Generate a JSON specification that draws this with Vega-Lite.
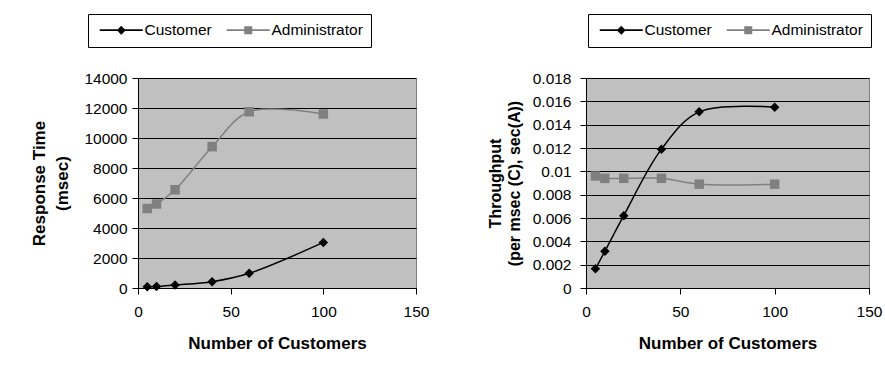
{
  "$schema": "https://vega.github.io/schema/vega-lite/v6.json",
  "autosize": {"type": "none"},
  "padding": {"left": 138, "top": 78, "right": 747, "bottom": 291},
  "background": "white",
  "spacing": 170,
  "bounds": "flush",
  "config": {
    "font": "Liberation Sans",
    "view": {"fill": "#c0c0c0", "stroke": "#808080", "strokeWidth": 1},
    "axis": {
      "domainColor": "black", "tickColor": "black", "gridColor": "black",
      "labelColor": "black", "titleColor": "black",
      "labelFont": "Liberation Sans", "titleFont": "Liberation Sans",
      "labelFontSize": 15.5, "titleFontSize": 17, "titleFontWeight": "bold",
      "tickSize": 6, "domainWidth": 1, "tickWidth": 1, "gridWidth": 1,
      "labelFlush": false, "labelOverlap": false
    },
    "legend": {
      "orient": "none", "direction": "horizontal",
      "strokeColor": "black", "fillColor": "white", "padding": 8,
      "labelFont": "Liberation Sans", "labelFontSize": 15.5, "labelColor": "black",
      "symbolSize": 64, "labelOffset": 33, "columnPadding": 11, "symbolOpacity": 1
    }
  },
  "datasets": {
    "resp": [
      {"customers": 5, "series": "Administrator", "value": 5300},
      {"customers": 10, "series": "Administrator", "value": 5600},
      {"customers": 20, "series": "Administrator", "value": 6550},
      {"customers": 40, "series": "Administrator", "value": 9420},
      {"customers": 60, "series": "Administrator", "value": 11750},
      {"customers": 100, "series": "Administrator", "value": 11600},
      {"customers": 5, "series": "Customer", "value": 90},
      {"customers": 10, "series": "Customer", "value": 100},
      {"customers": 20, "series": "Customer", "value": 200},
      {"customers": 40, "series": "Customer", "value": 420},
      {"customers": 60, "series": "Customer", "value": 980},
      {"customers": 100, "series": "Customer", "value": 3040}
    ],
    "thru": [
      {"customers": 5, "series": "Administrator", "value": 0.0096},
      {"customers": 10, "series": "Administrator", "value": 0.0094},
      {"customers": 20, "series": "Administrator", "value": 0.0094},
      {"customers": 40, "series": "Administrator", "value": 0.0094},
      {"customers": 60, "series": "Administrator", "value": 0.0089},
      {"customers": 100, "series": "Administrator", "value": 0.0089},
      {"customers": 5, "series": "Customer", "value": 0.00164},
      {"customers": 10, "series": "Customer", "value": 0.00315},
      {"customers": 20, "series": "Customer", "value": 0.0062},
      {"customers": 40, "series": "Customer", "value": 0.0119},
      {"customers": 60, "series": "Customer", "value": 0.0151},
      {"customers": 100, "series": "Customer", "value": 0.0155}
    ]
  },
  "resolve": {
    "scale": {"color": "independent", "shape": "independent", "x": "independent", "y": "independent"},
    "legend": {"color": "independent", "shape": "independent"}
  },
  "hconcat": [
    {
      "width": 278, "height": 210,
      "data": {"name": "resp"},
      "encoding": {
        "x": {"field": "customers", "type": "quantitative",
          "scale": {"domain": [0, 150], "nice": false},
          "axis": {"values": [0, 50, 100, 150], "grid": false, "labelPadding": 10, "titlePadding": 16, "title": "Number of Customers"}},
        "y": {"field": "value", "type": "quantitative",
          "scale": {"domain": [0, 14000], "nice": false},
          "axis": {"values": [0, 2000, 4000, 6000, 8000, 10000, 12000, 14000], "format": "d", "grid": true, "labelPadding": 5, "title": ["Response Time", "(msec)"], "titlePadding": 12, "titleLineHeight": 23}}
      },
      "layer": [
        {
          "mark": {"type": "line", "interpolate": "catmull-rom", "strokeWidth": 1.5},
          "encoding": {
            "detail": {"field": "series", "type": "nominal"},
            "color": {"condition": {"test": "datum.series === 'Customer'", "value": "black"}, "value": "#808080"}
          }
        },
        {
          "mark": {"type": "point", "filled": true, "opacity": 1, "size": 90},
          "encoding": {
            "color": {"condition": {"test": "datum.series === 'Customer'", "value": "black"}, "value": "#808080"},
            "shape": {"condition": {"test": "datum.series === 'Customer'", "value": "diamond"}, "value": "square"}
          }
        },
        {
          "transform": [{"filter": "false"}],
          "mark": {"type": "point", "filled": true, "opacity": 1},
          "encoding": {
            "color": {"field": "series", "type": "nominal", "scale": {"domain": ["Customer", "Administrator"], "range": ["black", "#808080"]},
              "legend": {"title": null, "legendX": -50, "legendY": -64}},
            "shape": {"field": "series", "type": "nominal", "scale": {"domain": ["Customer", "Administrator"], "range": ["M-1,-0.19H9.75V0.19H-1ZM4.375,-1.125L5.5,0L4.375,1.125L3.25,0Z", "M-1,-0.19H9.75V0.19H-1ZM3.375,-1H5.375V1H3.375Z"]},
              "legend": {"title": null, "legendX": -50, "legendY": -64}}
          }
        }
      ]
    },
    {
      "width": 283, "height": 210,
      "data": {"name": "thru"},
      "encoding": {
        "x": {"field": "customers", "type": "quantitative",
          "scale": {"domain": [0, 150], "nice": false},
          "axis": {"values": [0, 50, 100, 150], "grid": false, "labelPadding": 10, "titlePadding": 16, "title": "Number of Customers"}},
        "y": {"field": "value", "type": "quantitative",
          "scale": {"domain": [0, 0.018], "nice": false},
          "axis": {"values": [0, 0.002, 0.004, 0.006, 0.008, 0.01, 0.012, 0.014, 0.016, 0.018], "format": "~g", "grid": true, "labelPadding": 9, "title": ["Throughput", "(per msec (C), sec(A))"], "titleFontSize": 16, "titlePadding": 10, "titleLineHeight": 19}}
      },
      "layer": [
        {
          "mark": {"type": "line", "interpolate": "catmull-rom", "strokeWidth": 1.5},
          "encoding": {
            "detail": {"field": "series", "type": "nominal"},
            "color": {"condition": {"test": "datum.series === 'Customer'", "value": "black"}, "value": "#808080"}
          }
        },
        {
          "mark": {"type": "point", "filled": true, "opacity": 1, "size": 90},
          "encoding": {
            "color": {"condition": {"test": "datum.series === 'Customer'", "value": "black"}, "value": "#808080"},
            "shape": {"condition": {"test": "datum.series === 'Customer'", "value": "diamond"}, "value": "square"}
          }
        },
        {
          "transform": [{"filter": "false"}],
          "mark": {"type": "point", "filled": true, "opacity": 1},
          "encoding": {
            "color": {"field": "series", "type": "nominal", "scale": {"domain": ["Customer", "Administrator"], "range": ["black", "#808080"]},
              "legend": {"title": null, "legendX": 2, "legendY": -64}},
            "shape": {"field": "series", "type": "nominal", "scale": {"domain": ["Customer", "Administrator"], "range": ["M-1,-0.19H9.75V0.19H-1ZM4.375,-1.125L5.5,0L4.375,1.125L3.25,0Z", "M-1,-0.19H9.75V0.19H-1ZM3.375,-1H5.375V1H3.375Z"]},
              "legend": {"title": null, "legendX": 2, "legendY": -64}}
          }
        }
      ]
    }
  ]
}
